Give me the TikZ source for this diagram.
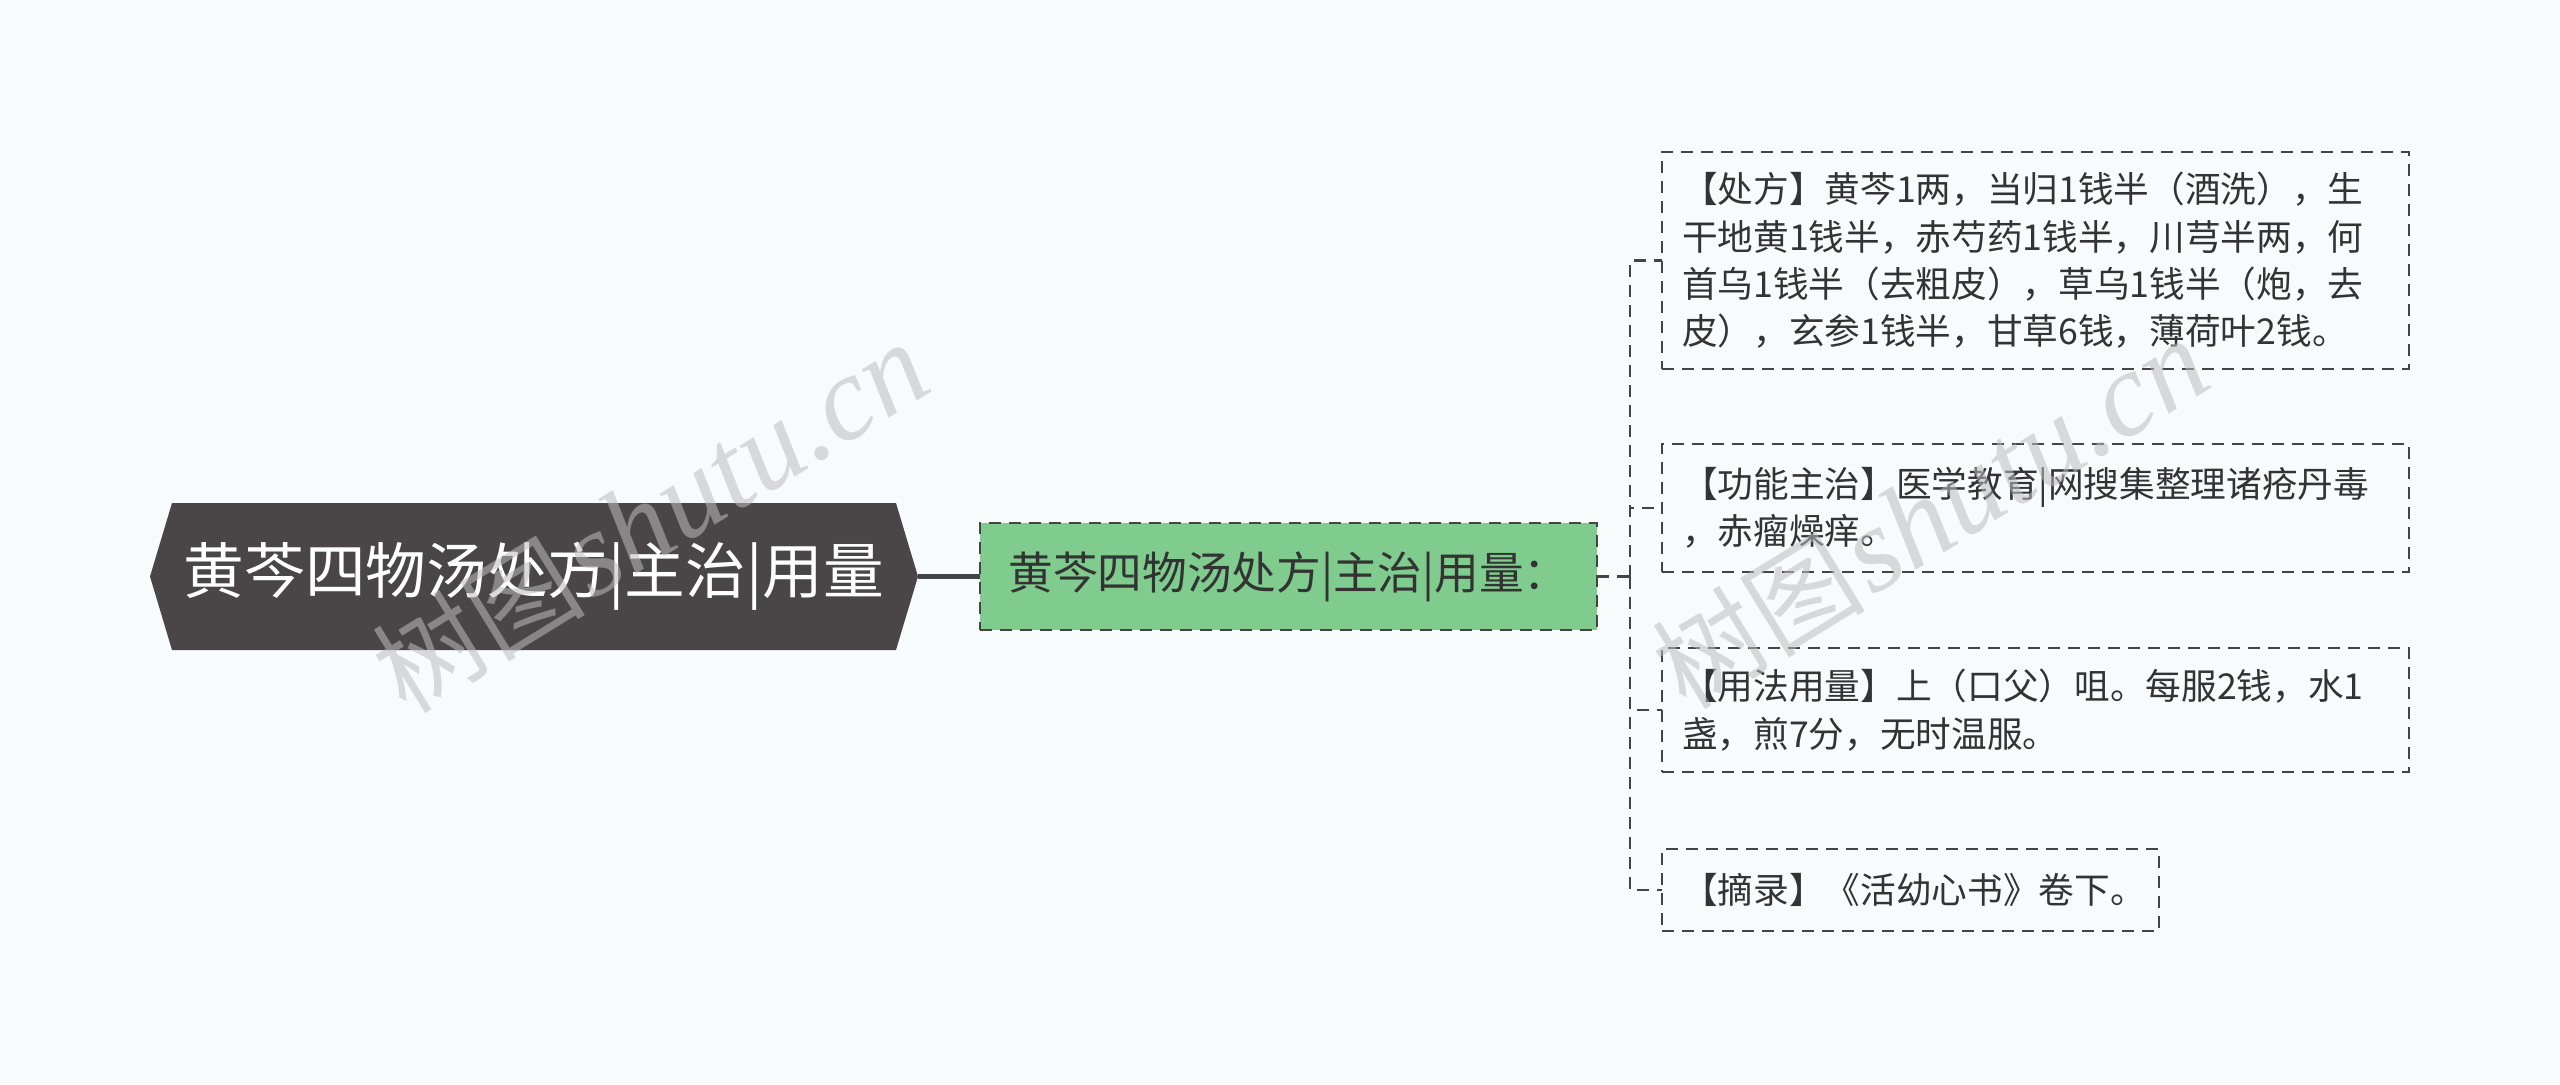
\documentclass[tikz,border=0pt]{standalone}
\usepackage{fontspec}
\newfontfamily\cjk{Noto Sans CJK SC}
\newfontfamily\wmserif{Liberation Serif}
\usetikzlibrary{calc}
\definecolor{bgc}{HTML}{F7FBFC}
\definecolor{rootc}{HTML}{4A4546}
\definecolor{greenc}{HTML}{7FCC8E}
\definecolor{linec}{HTML}{444444}
\definecolor{textc}{HTML}{333333}
\definecolor{wmc}{HTML}{BDBDBD}
\pgfdeclarelayer{bg}
\pgfsetlayers{bg,main}
\begin{document}
\begin{tikzpicture}[x=0.3pt,y=-0.3pt,
  rootnode/.style={inner sep=0pt, outer sep=0pt, minimum width=230.4pt, minimum height=44.1pt, text=white, font=\cjk\fontsize{18.2}{22}\selectfont},
  midnode/.style={draw=linec, fill=greenc, line width=0.85pt, dash pattern=on 3.6pt off 2.4pt, minimum width=185.1pt, minimum height=32.1pt, inner sep=0pt, outer sep=0pt, text=textc, font=\cjk\fontsize{13.4}{16}\selectfont},
  leafnode/.style={draw=linec, line width=0.85pt, dash pattern=on 3.6pt off 2.4pt, inner xsep=6pt, inner ysep=0pt, outer sep=0pt, align=left, text=textc, font=\cjk\fontsize{10.7}{14.2}\selectfont, anchor=west},
  conn/.style={draw=linec, line width=0.85pt, dash pattern=on 3.6pt off 2.4pt},
  rootconn/.style={draw=linec, line width=1.4pt},
  wm/.style={text=wmc, opacity=0.55, rotate=31.6, inner sep=0pt}]

\useasboundingbox (0,0) rectangle (2560,1084);

\node[rootnode] (root) at (534,576.5) {黄芩四物汤处方|主治|用量};
\node[midnode] (mid) at (1288.5,576.5) {黄芩四物汤处方|主治|用量：};

\node[leafnode, minimum width=224.1pt, text width=212.1pt, minimum height=65.1pt] (l1) at (1662,260.5)
  {【处方】黄芩1两，当归1钱半（酒洗），生\\干地黄1钱半，赤芍药1钱半，川芎半两，何\\首乌1钱半（去粗皮），草乌1钱半（炮，去\\皮），玄参1钱半，甘草6钱，薄荷叶2钱。};
\node[leafnode, minimum width=224.1pt, text width=212.1pt, minimum height=38.4pt] (l2) at (1662,508)
  {【功能主治】医学教育|网搜集整理诸疮丹毒\\，赤瘤燥痒。};
\node[leafnode, minimum width=224.1pt, text width=212.1pt, minimum height=37.2pt] (l3) at (1662,710)
  {【用法用量】上（口父）咀。每服2钱，水1\\盏，煎7分，无时温服。};
\node[leafnode, minimum width=149.1pt, text width=137.1pt, minimum height=24.6pt] (l4) at (1662,890)
  {【摘录】《活幼心书》卷下。};

\begin{pgfonlayer}{bg}
  \fill[bgc] (0,0) rectangle (2560,1084);
  \fill[rootc] (root.west) -- ($(root.north west)+(22,0)$) -- ($(root.north east)+(-22,0)$)
    -- (root.east) -- ($(root.south east)+(-22,0)$) -- ($(root.south west)+(22,0)$) -- cycle;
\end{pgfonlayer}

\coordinate (bx) at (1630,576.5);
\draw[rootconn] (root.east) -- (mid.west);
\draw[conn] (mid.east) -- (bx);
\draw[conn] (bx) |- (l1.west);
\draw[conn] (bx) |- (l2.west);
\draw[conn] (bx) |- (l3.west);
\draw[conn] (bx) |- (l4.west);

\node[wm] (wm1) at (650,518) {{\cjk\fontsize{32}{32}\selectfont 树图}\,{\wmserif\itshape\fontsize{36}{36}\selectfont shutu.cn}};
\node[wm] (wm2) at (1930,514) {{\cjk\fontsize{32}{32}\selectfont 树图}\,{\wmserif\itshape\fontsize{36}{36}\selectfont shutu.cn}};
\end{tikzpicture}
\end{document}
